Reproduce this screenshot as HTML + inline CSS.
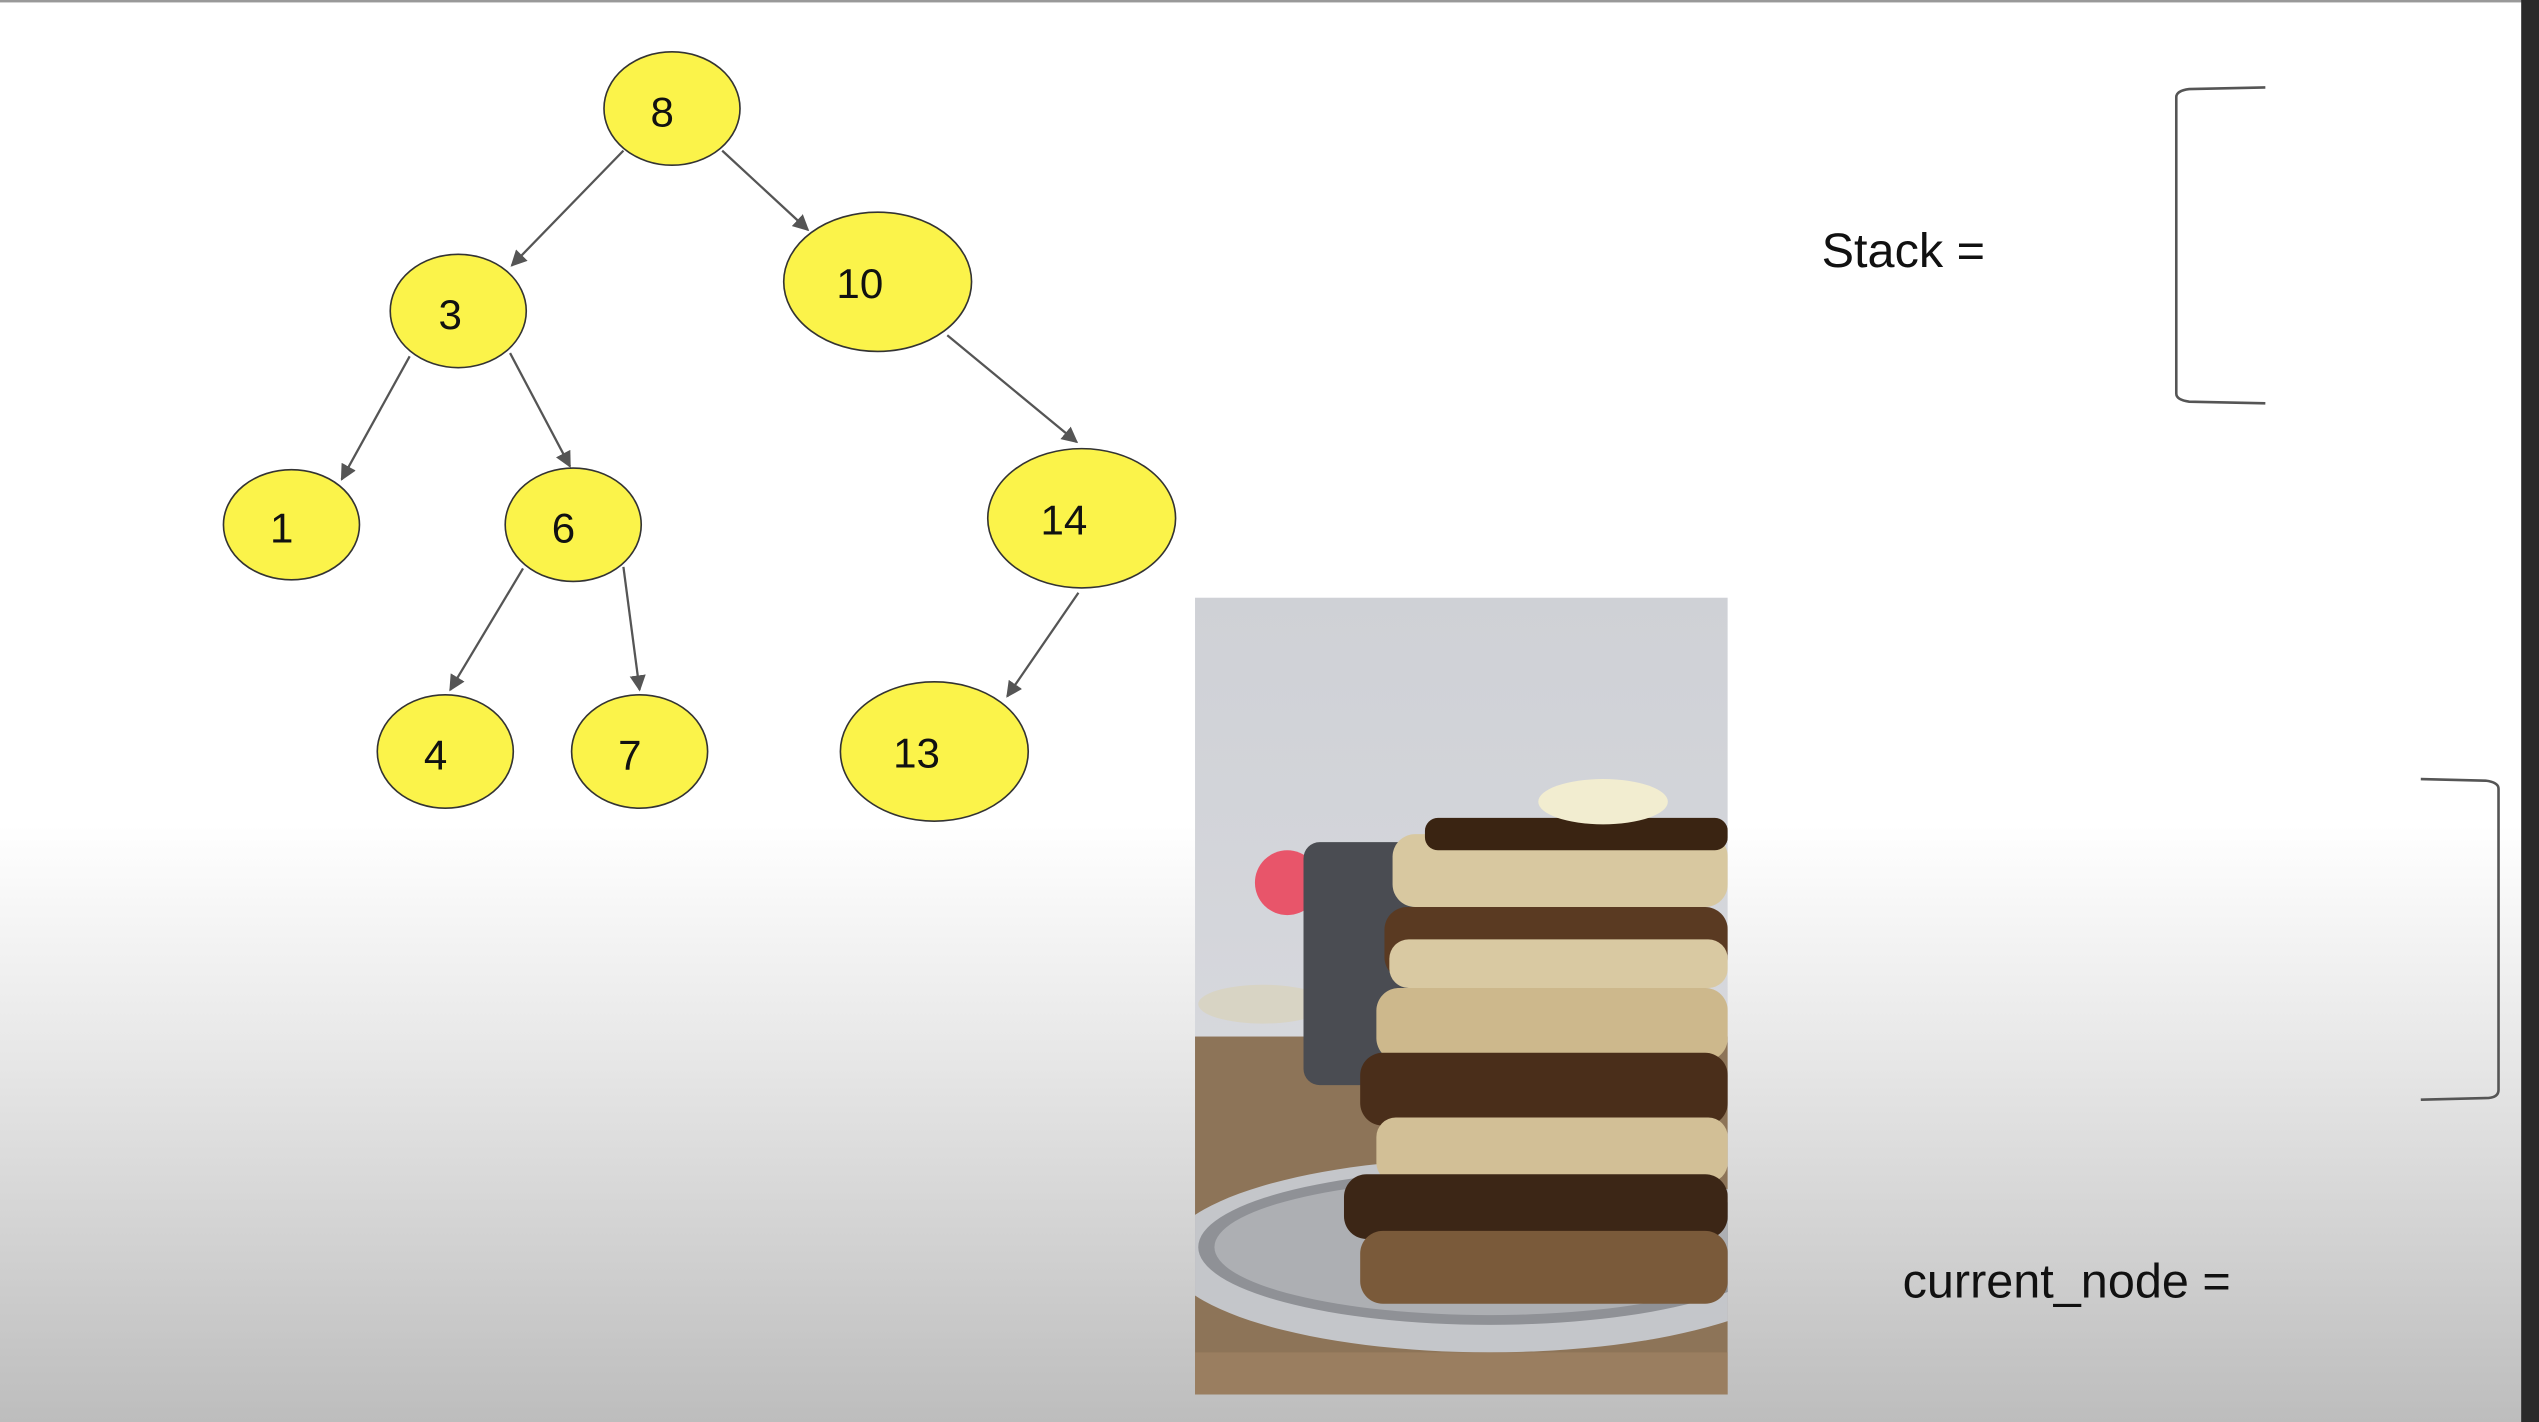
<!DOCTYPE html>
<html><head><meta charset="utf-8"><style>
html,body{margin:0;padding:0;width:2539px;height:1422px;overflow:hidden}
svg{display:block}
</style></head><body>
<svg width="2539" height="1422" viewBox="0 0 1568 878" preserveAspectRatio="none" xmlns="http://www.w3.org/2000/svg">
<defs>
<linearGradient id="bg" x1="0" y1="0" x2="0" y2="1">
<stop offset="0" stop-color="#ffffff"/><stop offset="0.58" stop-color="#ffffff"/><stop offset="0.75" stop-color="#e6e6e6"/><stop offset="1" stop-color="#bdbdbd"/>
</linearGradient>
<linearGradient id="wall" x1="0" y1="0" x2="0" y2="1">
<stop offset="0" stop-color="#cfd1d6"/><stop offset="1" stop-color="#dcdde2"/>
</linearGradient>
<clipPath id="ph"><rect x="738" y="369" width="329" height="492"/></clipPath>
<marker id="ah" markerWidth="10" markerHeight="10" refX="9" refY="5" orient="auto" markerUnits="userSpaceOnUse">
<path d="M0,0 L10,5 L0,10 z" fill="#555"/>
</marker>
</defs>
<rect width="1568" height="878" fill="url(#bg)"/>
<rect x="0" y="0" width="1568" height="1.5" fill="#999"/>
<rect x="1557" y="0" width="11" height="878" fill="#2a2a2a"/>

<g stroke="#555" stroke-width="1.4" marker-end="url(#ah)">
<line x1="385" y1="93" x2="316" y2="164"/>
<line x1="446" y1="93" x2="499" y2="142"/>
<line x1="253" y1="220" x2="211" y2="296"/>
<line x1="315" y1="218" x2="352" y2="288"/>
<line x1="585" y1="207" x2="665" y2="273"/>
<line x1="323" y1="351" x2="278" y2="426"/>
<line x1="385" y1="350" x2="395" y2="426"/>
<line x1="666" y1="366" x2="622" y2="430"/>
</g>
<g fill="#fbf34a" stroke="#333" stroke-width="1">
<ellipse cx="415" cy="67" rx="42" ry="35"/>
<ellipse cx="283" cy="192" rx="42" ry="35"/>
<ellipse cx="542" cy="174" rx="58" ry="43"/>
<ellipse cx="180" cy="324" rx="42" ry="34"/>
<ellipse cx="354" cy="324" rx="42" ry="35"/>
<ellipse cx="668" cy="320" rx="58" ry="43"/>
<ellipse cx="275" cy="464" rx="42" ry="35"/>
<ellipse cx="395" cy="464" rx="42" ry="35"/>
<ellipse cx="577" cy="464" rx="58" ry="43"/>
</g>
<g font-family="Liberation Sans, sans-serif" font-size="26" fill="#111" text-anchor="middle">
<text x="409" y="78">8</text>
<text x="278" y="203">3</text>
<text x="531" y="184">10</text>
<text x="174" y="335">1</text>
<text x="348" y="335">6</text>
<text x="657" y="330">14</text>
<text x="269" y="475">4</text>
<text x="389" y="475">7</text>
<text x="566" y="474">13</text>
</g>

<g clip-path="url(#ph)">
<rect x="738" y="369" width="329" height="492" fill="url(#wall)"/>
<rect x="738" y="640" width="329" height="221" fill="#8d7458"/>
<ellipse cx="780" cy="620" rx="40" ry="12" fill="#d8d4c4"/>
<circle cx="795" cy="545" r="20" fill="#e8556a"/>
<rect x="805" y="520" width="70" height="150" rx="10" fill="#4a4c52"/>
<ellipse cx="920" cy="775" rx="200" ry="60" fill="#c4c6ca"/>
<ellipse cx="920" cy="770" rx="180" ry="48" fill="#8f9196"/>
<ellipse cx="920" cy="770" rx="170" ry="42" fill="#adafb3"/>
<rect x="860" y="515" width="207" height="45" rx="14" fill="#d8c8a0"/>
<rect x="855" y="560" width="212" height="45" rx="14" fill="#5a3a22"/>
<rect x="858" y="580" width="209" height="30" rx="12" fill="#d9c9a2"/>
<rect x="850" y="610" width="217" height="45" rx="14" fill="#cdb88c"/>
<rect x="840" y="650" width="227" height="45" rx="14" fill="#4a2e1a"/>
<rect x="850" y="690" width="217" height="40" rx="12" fill="#d2bf96"/>
<rect x="830" y="725" width="237" height="40" rx="14" fill="#3c2616"/>
<rect x="840" y="760" width="227" height="45" rx="14" fill="#7a5a3a"/>
<rect x="880" y="505" width="187" height="20" rx="8" fill="#3a2412"/>
<ellipse cx="990" cy="495" rx="40" ry="14" fill="#f2edd0"/>
<rect x="738" y="835" width="329" height="26" fill="#9a7e60"/>
</g>

<g font-family="Liberation Sans, sans-serif" font-size="30" fill="#111">
<text x="1125" y="165">Stack =</text>
<text x="1175" y="801">current_node =</text>
</g>
<g fill="none" stroke="#555" stroke-width="1.6">
<path d="M1399,54 L1352,55 Q1344,56 1344,60 L1344,243 Q1344,247 1352,248 L1399,249"/>
<path d="M1495,481 L1535,482 Q1543,483 1543,487 L1543,673 Q1543,678 1535,678 L1495,679"/>
</g>
</svg>
</body></html>
